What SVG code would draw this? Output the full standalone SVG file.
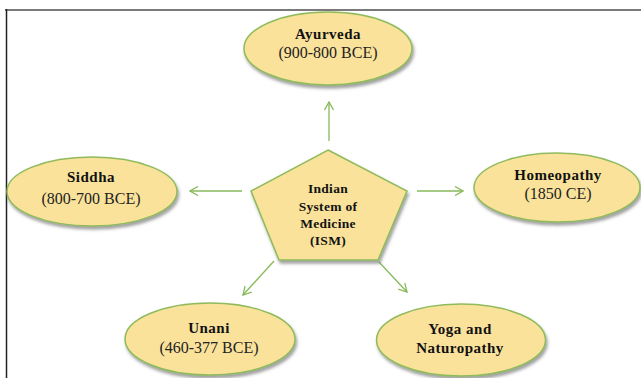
<svg xmlns="http://www.w3.org/2000/svg" width="641" height="378" viewBox="0 0 641 378">
<defs>
<filter id="sh" x="-20%" y="-20%" width="140%" height="150%">
<feDropShadow dx="1.5" dy="3" stdDeviation="1.8" flood-color="#555" flood-opacity="0.55"/>
</filter>
<marker id="ah" viewBox="0 0 10 10" refX="9" refY="5" markerWidth="10" markerHeight="10" markerUnits="userSpaceOnUse" orient="auto">
<path d="M1,0.5 L9,5 L1,9.5" fill="none" stroke="#86b95a" stroke-width="1.3"/>
</marker>
</defs>
<style>
.shape{fill:#fae29b;stroke:#8fbb5c;stroke-width:1.5;filter:url(#sh)}
.t{font-family:"Liberation Serif","Times New Roman",serif;text-anchor:middle;fill:#111}
.b{font-weight:bold;font-size:15px;letter-spacing:0.5px}
.r{font-size:16px;fill:#222}
.p{font-weight:bold;font-size:13.5px;letter-spacing:0.3px}
.c{fill:none;stroke:#86b95a;stroke-width:1.3;marker-end:url(#ah)}
</style>
<rect width="641" height="378" fill="#fff"/>
<line x1="5" y1="10" x2="641" y2="10" stroke="#7a7a7a" stroke-width="2"/>
<line x1="6.5" y1="9" x2="6.5" y2="378" stroke="#222" stroke-width="1.5"/>
<g id="connectors">
<line class="c" x1="329" y1="141" x2="329" y2="102"/>
<line class="c" x1="242" y1="191" x2="190" y2="191"/>
<line class="c" x1="417" y1="191" x2="463" y2="191"/>
<line class="c" x1="274" y1="261" x2="243" y2="295"/>
<line class="c" x1="379" y1="262" x2="407" y2="292"/>
</g>
<g id="ism">
<polygon class="shape" points="328,150 407,191 378,260 279,260 251,191"/>
<text class="t p" x="328" y="193">Indian</text>
<text class="t p" x="328" y="211">System of</text>
<text class="t p" x="328" y="228">Medicine</text>
<text class="t p" x="328" y="245">(ISM)</text>
</g>
<g id="ayurveda">
<ellipse class="shape" cx="328" cy="48.5" rx="84" ry="36.5"/>
<text class="t b" x="328" y="39">Ayurveda</text>
<text class="t r" x="328" y="58">(900-800 BCE)</text>
</g>
<g id="siddha">
<ellipse class="shape" cx="92" cy="191.5" rx="85" ry="34.5"/>
<text class="t b" x="91" y="182">Siddha</text>
<text class="t r" x="91" y="204">(800-700 BCE)</text>
</g>
<g id="homeopathy">
<ellipse class="shape" cx="557" cy="187.5" rx="83" ry="34.5"/>
<text class="t b" x="558" y="180">Homeopathy</text>
<text class="t r" x="558" y="199">(1850 CE)</text>
</g>
<g id="unani">
<ellipse class="shape" cx="210" cy="339" rx="85" ry="36"/>
<text class="t b" x="209" y="333">Unani</text>
<text class="t r" x="209" y="353">(460-377 BCE)</text>
</g>
<g id="yoga">
<ellipse class="shape" cx="461" cy="340" rx="84.5" ry="36"/>
<text class="t b" x="460" y="334">Yoga and</text>
<text class="t b" x="460" y="353">Naturopathy</text>
</g>
</svg>
